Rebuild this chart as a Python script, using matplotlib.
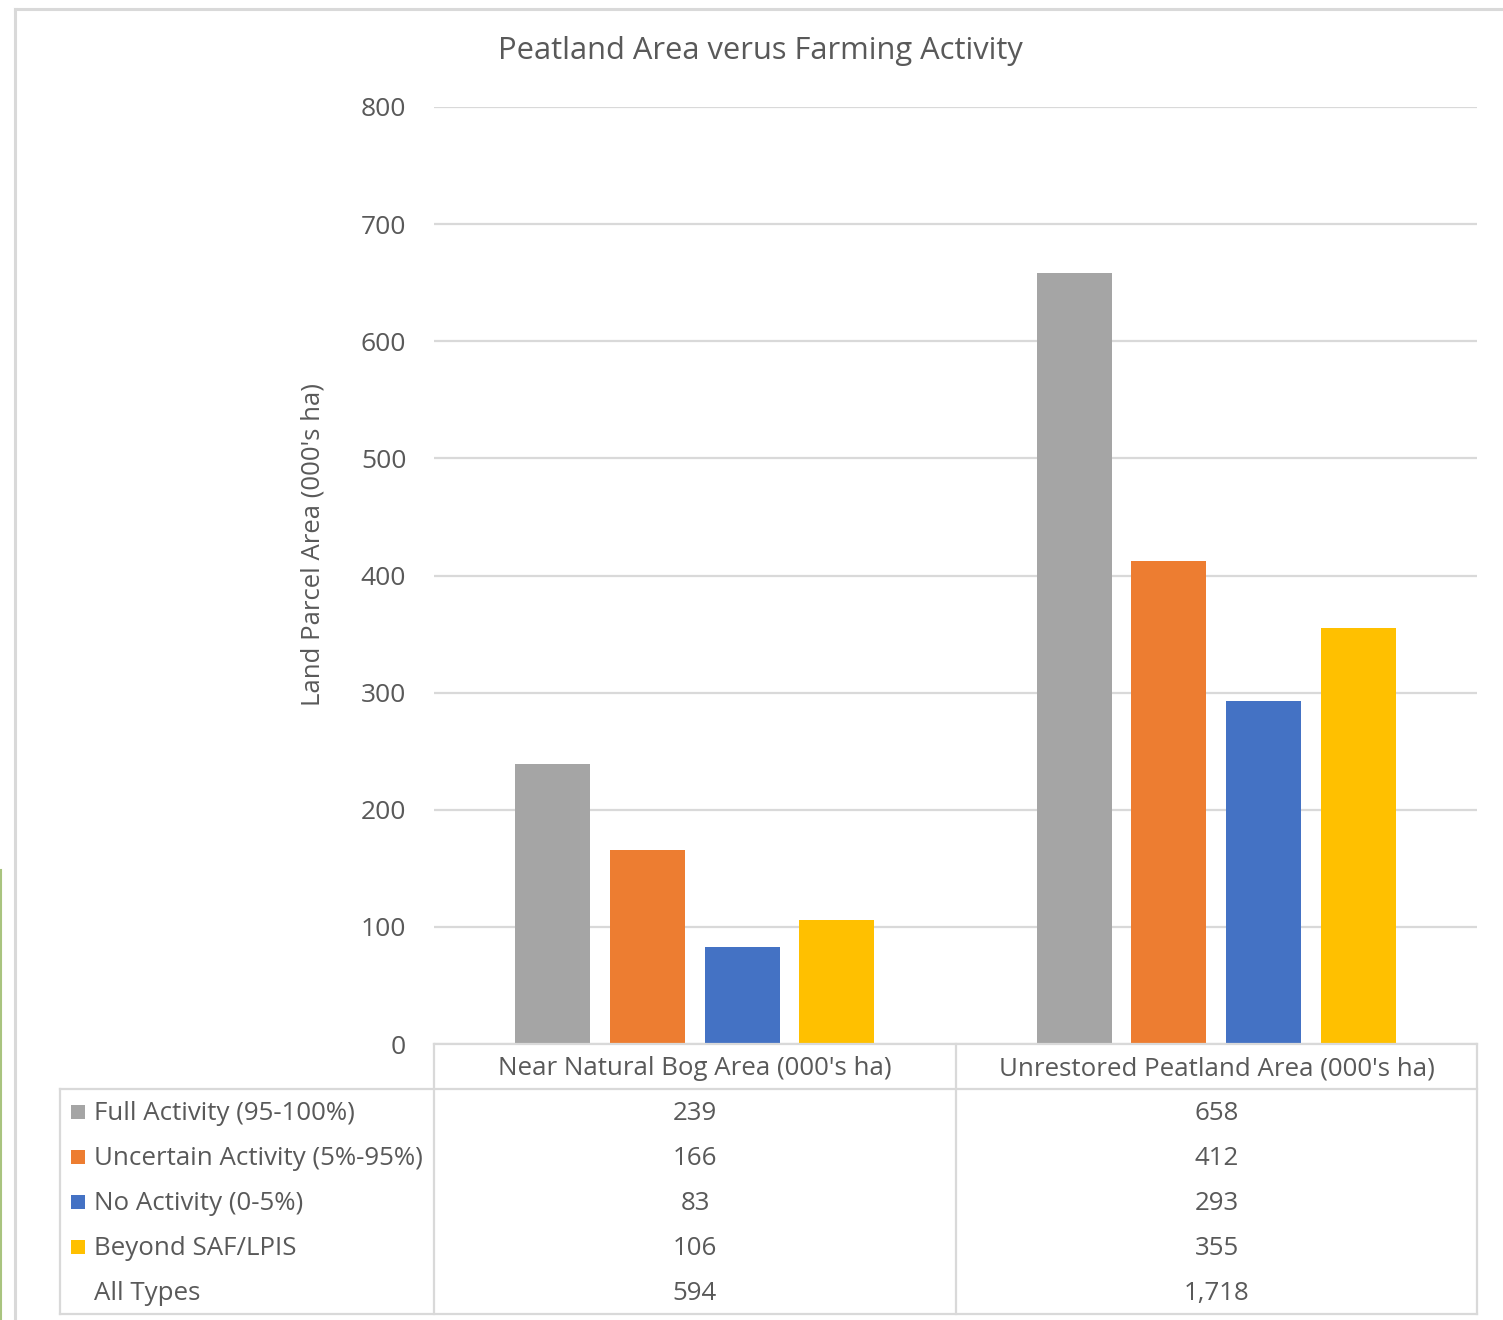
import matplotlib.pyplot as plt
from matplotlib.lines import Line2D
from matplotlib.patches import Rectangle
import numpy as np

plt.rcParams['font.family'] = ['Open Sans', 'DejaVu Sans']

title = "Peatland Area verus Farming Activity"
categories = ["Near Natural Bog Area (000's ha)", "Unrestored Peatland Area (000's ha)"]
series_names = ["Full Activity (95-100%)", "Uncertain Activity (5%-95%)",
                "No Activity (0-5%)", "Beyond SAF/LPIS"]
full_activity = [239, 658]
uncertain_activity = [166, 412]
no_activity = [83, 293]
beyond_saf = [106, 355]
colors = ["#a5a5a5", "#ed7d31", "#4472c4", "#ffc000"]
y_ticks = [0, 100, 200, 300, 400, 500, 600, 700, 800]

series = [full_activity, uncertain_activity, no_activity, beyond_saf]
totals = [sum(v) for v in zip(*series)]

W, H = 1503, 1320
fig = plt.figure(figsize=(W / 100, H / 100), dpi=100)
txt = "#595959"
grid = "#d9d9d9"


def fx(x):
    return x / W


def fy(y):
    return 1 - y / H


def hline(x0, x1, y, **kw):
    fig.add_artist(Line2D([fx(x0), fx(x1)], [fy(y), fy(y)], transform=fig.transFigure, **kw))


def vline(x, y0, y1, **kw):
    fig.add_artist(Line2D([fx(x), fx(x)], [fy(y0), fy(y1)], transform=fig.transFigure, **kw))


# plot area in pixel terms
ax_l, ax_r, ax_t, ax_b = 434, 1477, 107, 1044
ax = fig.add_axes([fx(ax_l), fy(ax_b), fx(ax_r - ax_l), (ax_b - ax_t) / H])

x = np.arange(len(categories))
slot = 0.1814
width = 0.1437
for i, (vals, c) in enumerate(zip(series, colors)):
    ax.bar(x + (i - 1.5) * slot, vals, width=width, color=c, zorder=3)

ax.set_xlim(-0.5, 1.5)
ax.set_ylim(0, 800)
ax.set_yticks(y_ticks)
ax.set_yticklabels([str(t) for t in y_ticks], fontsize=19, color=txt)
ax.tick_params(axis='y', length=0, pad=20)
ax.set_xticks([])
ax.yaxis.grid(True, color=grid, lw=1.6, zorder=0)
for s in ax.spines.values():
    s.set_visible(False)

fig.text(fx(313), fy(545), "Land Parcel Area (000's ha)", rotation=90,
         ha='center', va='center', fontsize=18.5, color=txt)
fig.text(fx(760), fy(51), title, ha='center', va='center', fontsize=22.2, color=txt)

# data table below the plot
row_h = 45
head_top = ax_b
rows_top = head_top + row_h
rows_bot = rows_top + row_h * 5
col_mid = 956
lw = 1.6
hline(ax_l, ax_r, head_top, color=grid, lw=lw)
hline(60, ax_r, rows_top, color=grid, lw=lw)
hline(60, ax_r, rows_bot, color=grid, lw=lw)
vline(60, rows_top, rows_bot, color=grid, lw=lw)
for xv in (ax_l, col_mid, ax_r):
    vline(xv, head_top, rows_bot, color=grid, lw=lw)

fs = 18.6
col_centers = [(ax_l + col_mid) / 2, (col_mid + ax_r) / 2]
for cx, name in zip(col_centers, categories):
    fig.text(fx(cx), fy(head_top + row_h / 2 + 2), name, ha='center', va='center',
             fontsize=fs, color=txt)

labels = series_names + ["All Types"]
values = series + [totals]
for r, (lab, vals) in enumerate(zip(labels, values)):
    cy = rows_top + row_h * r + row_h / 2
    if r < len(colors):
        fig.add_artist(Rectangle((fx(71), fy(cy + 7)), fx(14), 14 / H,
                                 transform=fig.transFigure, color=colors[r], lw=0))
    fig.text(fx(94), fy(cy + 2), lab, ha='left', va='center', fontsize=fs, color=txt)
    for cx, v in zip(col_centers, vals):
        fig.text(fx(cx), fy(cy + 2), f"{v:,}", ha='center', va='center', fontsize=fs, color=txt)

# chart frame
vline(15, 9, H, color=grid, lw=2.2)
hline(15, W, 9, color=grid, lw=2.2)
vline(1, 870, H, color="#a9c47f", lw=1.5)

fig.savefig("out.png", dpi=100)
